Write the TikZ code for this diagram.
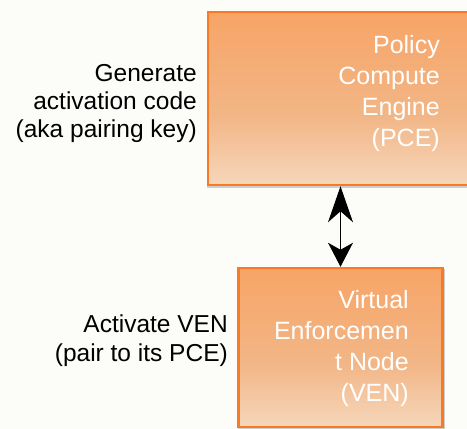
\documentclass[tikz,border=0pt]{standalone}
\usepackage{fontspec}
\setmainfont{Liberation Sans}
\usetikzlibrary{arrows.meta,shadows}
\definecolor{bg}{RGB}{252,252,248}
\definecolor{edgeor}{RGB}{249,122,36}
\definecolor{ortop}{RGB}{249,158,92}
\definecolor{ormid}{RGB}{242,182,134}
\definecolor{orbot}{RGB}{250,245,238}
\pgfdeclareverticalshading{boxshade}{100bp}{color(0bp)=(orbot); color(6bp)=(orbot); color(45bp)=(ormid); color(85bp)=(ortop); color(100bp)=(ortop)}
\begin{document}
\begin{tikzpicture}[x=1pt,y=-1pt,
  box/.style={draw=edgeor, line width=2.5pt, shading=boxshade, rectangle, inner sep=0pt,
    general shadow={fill=black, opacity=0.18, shadow xshift=1pt, shadow yshift=-2pt, shadow scale=1.015}},
  boxtext/.style={text=white, align=right, inner sep=0pt, font=\fontsize{25}{31}\selectfont},
  sidetext/.style={text=black, align=right, inner sep=0pt},
  link/.style={line width=1.2pt, black, {Stealth[length=36pt,width=25pt,inset=11pt]}-{Stealth[length=24pt,width=25pt,inset=7pt]}}]
\clip (0,0) rectangle (467,429);
\fill[bg] (0,0) rectangle (467,429);
\node[box, minimum width=272pt, minimum height=173pt] (pce) at (344,98.5) {};
\node[box, minimum width=204pt, minimum height=159pt] (ven) at (340.5,347.5) {};
\node[boxtext, anchor=north east] (pcet) at (440,35) {Policy\\Compute\\Engine\\(PCE)};
\node[boxtext, anchor=north east] (vent) at (409,290) {Virtual\\Enforcemen\\t Node\\(VEN)};
\node[sidetext, anchor=north east, font=\fontsize{24.5}{28}\selectfont] (gen) at (197,64) {Generate\\activation code\\(aka pairing key)};
\node[sidetext, anchor=north east, font=\fontsize{24.5}{29}\selectfont] (act) at (228,315) {Activate VEN\\(pair to its PCE)};
\draw[link] (ven.north |- pce.south) -- (ven.north);
\end{tikzpicture}
\end{document}
